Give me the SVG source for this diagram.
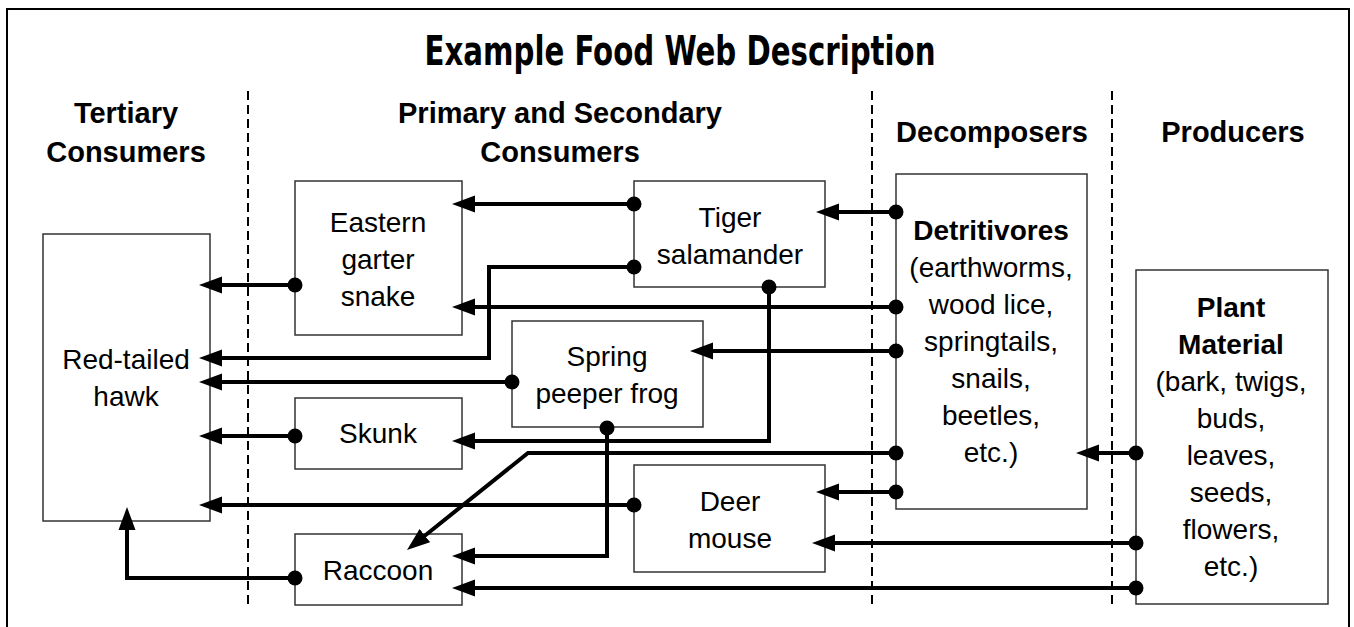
<svg xmlns="http://www.w3.org/2000/svg" width="1354" height="627" viewBox="0 0 1354 627">
<defs>
<style>
.box{fill:#fff;stroke:#333;stroke-width:1.5}
.t{font-family:"Liberation Sans",Arial,sans-serif;font-size:28px;fill:#000;text-anchor:middle}
.b{font-weight:bold}
.h{font-family:"Liberation Sans",Arial,sans-serif;font-size:29px;font-weight:bold;fill:#000;text-anchor:middle}
.div{stroke:#000;stroke-width:2;stroke-dasharray:9,5;fill:none}
.c{fill:none;stroke:#000;stroke-width:4;marker-start:url(#dot);marker-end:url(#arr)}
</style>
<marker id="arr" markerUnits="userSpaceOnUse" markerWidth="24" markerHeight="18" viewBox="0 0 24 18" refX="13" refY="9" orient="auto">
<path d="M23,9 L0,0.5 L0,17.5 z" fill="#000"/>
</marker>
<marker id="dot" markerUnits="userSpaceOnUse" markerWidth="18" markerHeight="18" viewBox="0 0 18 18" refX="9" refY="9" orient="auto">
<circle cx="9" cy="9" r="7.5" fill="#000"/>
</marker>
</defs>
<rect x="0" y="0" width="1354" height="627" fill="#fff"/>
<rect x="7" y="9" width="1342" height="640" fill="none" stroke="#000" stroke-width="2"/>
<text x="680" y="65" font-family="'DejaVu Sans Condensed','DejaVu Sans',sans-serif" font-size="40" font-weight="bold" text-anchor="middle" textLength="511" lengthAdjust="spacingAndGlyphs">Example Food Web Description</text>

<g id="headers">
<text class="h" x="126" y="123">Tertiary</text>
<text class="h" x="126" y="162">Consumers</text>
<text class="h" x="560" y="123">Primary and Secondary</text>
<text class="h" x="560" y="162">Consumers</text>
<text class="h" x="992" y="142">Decomposers</text>
<text class="h" x="1233" y="142">Producers</text>
</g>
<g id="dividers">
<line class="div" x1="248" y1="91" x2="248" y2="605"/>
<line class="div" x1="872" y1="91" x2="872" y2="605"/>
<line class="div" x1="1112" y1="91" x2="1112" y2="605"/>
</g>

<g id="hawk"><rect class="box" x="43" y="234" width="167" height="287"/>
<text class="t" x="126" y="369">Red-tailed</text><text class="t" x="126" y="406">hawk</text></g>
<g id="garter"><rect class="box" x="295" y="181" width="167" height="154"/>
<text class="t" x="378" y="232">Eastern</text><text class="t" x="378" y="269">garter</text><text class="t" x="378" y="306">snake</text></g>
<g id="salamander"><rect class="box" x="634" y="181" width="191" height="106"/>
<text class="t" x="730" y="227">Tiger</text><text class="t" x="730" y="264">salamander</text></g>
<g id="frog"><rect class="box" x="512" y="321" width="191" height="106"/>
<text class="t" x="607" y="366">Spring</text><text class="t" x="607" y="403">peeper frog</text></g>
<g id="skunk"><rect class="box" x="295" y="398" width="167" height="71"/>
<text class="t" x="378" y="443">Skunk</text></g>
<g id="mouse"><rect class="box" x="634" y="465" width="191" height="107"/>
<text class="t" x="730" y="511">Deer</text><text class="t" x="730" y="548">mouse</text></g>
<g id="raccoon"><rect class="box" x="295" y="534" width="167" height="71"/>
<text class="t" x="378" y="580">Raccoon</text></g>
<g id="detritivores"><rect class="box" x="896" y="174" width="191" height="335"/>
<text class="t b" x="991" y="240">Detritivores</text>
<text class="t" x="991" y="277">(earthworms,</text>
<text class="t" x="991" y="314">wood lice,</text>
<text class="t" x="991" y="351">springtails,</text>
<text class="t" x="991" y="388">snails,</text>
<text class="t" x="991" y="425">beetles,</text>
<text class="t" x="991" y="462">etc.)</text></g>
<g id="plant"><rect class="box" x="1136" y="270" width="192" height="334"/>
<text class="t b" x="1231" y="317">Plant</text>
<text class="t b" x="1231" y="354">Material</text>
<text class="t" x="1231" y="391">(bark, twigs,</text>
<text class="t" x="1231" y="428">buds,</text>
<text class="t" x="1231" y="465">leaves,</text>
<text class="t" x="1231" y="502">seeds,</text>
<text class="t" x="1231" y="539">flowers,</text>
<text class="t" x="1231" y="576">etc.)</text></g>

<g id="connectors">
<path class="c" d="M634,204 H462"/>
<path class="c" d="M634,267 H489 V358 H209"/>
<path class="c" d="M295,285 H209"/>
<path class="c" d="M896,212 H826"/>
<path class="c" d="M896,307 H462"/>
<path class="c" d="M769,287 V441 H462"/>
<path class="c" d="M896,351 H700"/>
<path class="c" d="M512,382 H209"/>
<path class="c" d="M295,436 H209"/>
<path class="c" d="M896,453 H528 L414.8,543.7"/>
<path class="c" d="M607,428 V556 H462"/>
<path class="c" d="M634,505 H209"/>
<path class="c" d="M896,492 H826"/>
<path class="c" d="M1136,453 H1086"/>
<path class="c" d="M1136,543 H822"/>
<path class="c" d="M1136,588 H462"/>
<path class="c" d="M295,578 H127 V517"/>
</g>
</svg>
